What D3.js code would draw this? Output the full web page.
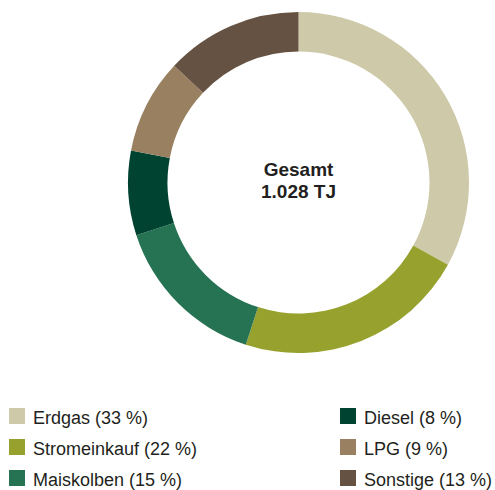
<!DOCTYPE html>
<html>
<head>
  <meta charset="utf-8">
  <script src="https://d3js.org/d3.v7.min.js"></script>
  <style>
    body { margin: 0; background: #fff; }
    text { font-family: "Liberation Sans", Arial, Helvetica, sans-serif; fill: #231f20; }
  </style>
</head>
<body>
<script>
  // data
  var categories = ["Erdgas", "Stromeinkauf", "Maiskolben", "Diesel", "LPG", "Sonstige"];
  var shares = [33, 22, 15, 8, 9, 13];
  var colors = ["#cec9a8", "#97a22e", "#267353", "#004331", "#988060", "#655242"];
  var totalLabel = ["Gesamt", "1.028 TJ"];

  var width = 495, height = 490;
  var cx = 298.5, cy = 182.5, outerR = 170.5, innerR = 131;

  var svg = d3.select("body").append("svg")
    .attr("width", width)
    .attr("height", height);

  /*
    donut
  */
  var pie = d3.pie().sort(null).value(function(d) { return d; });
  var arc = d3.arc().innerRadius(innerR).outerRadius(outerR);

  var g = svg.append("g").attr("transform", "translate(" + cx + "," + cy + ")");
  g.selectAll("path")
    .data(pie(shares))
    .enter().append("path")
    .attr("d", arc)
    .attr("fill", function(d, i) { return colors[i]; });

  g.selectAll("text.total")
    .data(totalLabel)
    .enter().append("text")
    .attr("class", "total")
    .attr("text-anchor", "middle")
    .attr("y", function(d, i) { return -6.5 + i * 22; })
    .style("font-size", "19px")
    .style("font-weight", "bold")
    .text(function(d) { return d; });

  /*
    legend - two columns of three
  */
  var legend = svg.append("g");
  var item = legend.selectAll("g")
    .data(categories)
    .enter().append("g")
    .attr("transform", function(d, i) {
      var col = Math.floor(i / 3), row = i % 3;
      return "translate(" + (col ? 340 : 9) + "," + (408 + row * 31) + ")";
    });

  item.append("rect")
    .attr("width", 16)
    .attr("height", 16)
    .attr("fill", function(d, i) { return colors[i]; });

  item.append("text")
    .attr("x", 24)
    .attr("y", 16)
    .style("font-size", "18px")
    .text(function(d, i) { return d + " (" + shares[i] + " %)"; });
</script>
</body>
</html>
